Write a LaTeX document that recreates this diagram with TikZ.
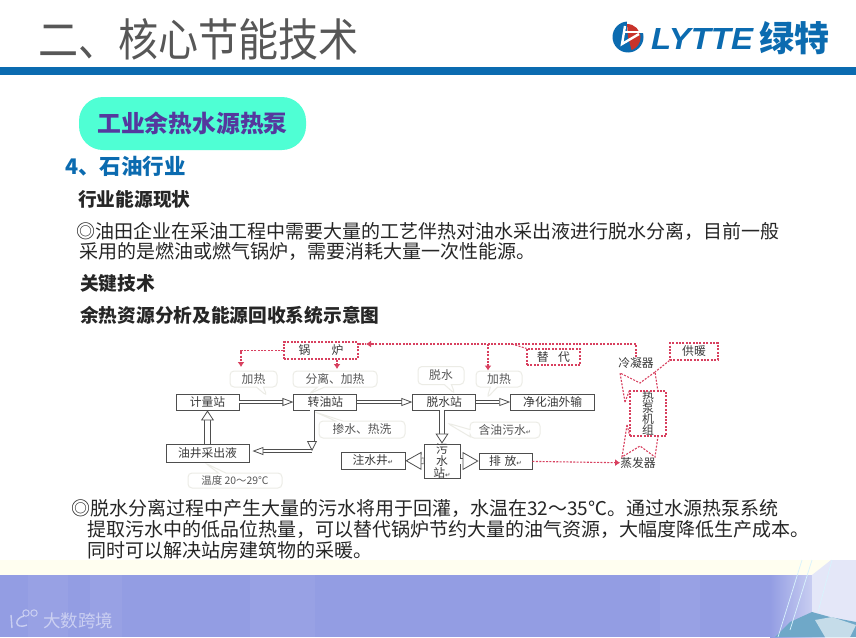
\documentclass[tikz,border=0pt]{standalone}
\usepackage{fontspec}
\setmainfont{Noto Sans CJK SC}
\newfontfamily\latinfont[FakeStretch=1.08]{Liberation Sans}
\newfontfamily\titlefont[FakeStretch=0.89]{Noto Sans CJK SC}
\newfontfamily\markfont{DejaVu Sans}
\newcommand{\retmark}{{\markfont\fontsize{6.5}{8}\selectfont ↵}}
\usepackage{xcolor}
\usetikzlibrary{positioning,arrows.meta,shapes.callouts,calc}
\definecolor{ink}{HTML}{3A3A3A}
\definecolor{barblue}{HTML}{0B6BB0}
\definecolor{pillgreen}{HTML}{4FFFD4}
\definecolor{pillink}{HTML}{55389E}
\definecolor{band}{HTML}{939DE3}
\definecolor{dashred}{HTML}{D8405F}
\definecolor{palegray}{HTML}{ECECE6}
\definecolor{logored}{HTML}{C8332B}
\definecolor{teal}{HTML}{6FA8C8}
\tikzset{
  bodytext/.style={anchor=west, inner sep=0pt, font=\fontsize{19}{19}\selectfont, text=black!85},
  headtext/.style={anchor=west, inner sep=0pt, font=\fontsize{18.7}{18.7}\selectfont\bfseries, text=black!85},
  stationbox/.style={draw=ink!90, line width=0.9pt, fill=white, minimum width=#1, minimum height=16pt, inner sep=0pt, font=\fontsize{11.8}{13}\selectfont, text=ink},
  stationbox/.default=63pt,
  notebox/.style={rectangle callout, rounded corners=4pt, draw=palegray, fill=white, line width=1pt, inner sep=0pt, font=\fontsize{11.8}{13}\selectfont, text=ink!85},
  dashbox/.style={draw=dashred, dash pattern=on 2pt off 1.4pt, line width=1.1pt, fill=white, inner sep=0pt, font=\fontsize{11.8}{13}\selectfont, text=ink},
  dashline/.style={draw=dashred, dash pattern=on 2pt off 1.4pt, line width=1.1pt},
  redtip/.style={-{Latex[length=5pt,width=7pt,sep=0pt]}},
  hollow/.style={draw=ink!90, line width=0.8pt, double=white, double distance=2.4pt, -{Triangle[open,fill=white,length=11pt,width=8pt]}},
  hollowup/.style={hollow, double distance=4.6pt, -{Triangle[open,fill=white,length=10pt,width=13pt]}},
  hollowbig/.style={hollow, double distance=5pt, -{Triangle[open,fill=white,length=16pt,width=18pt]}},
}
\begin{document}
\begin{tikzpicture}[x=1pt,y=-1pt]
  \useasboundingbox (0,0) rectangle (856,637);
  \fill[white] (0,0) rectangle (856,637);
  \fill[barblue] (0,67) rectangle (856,75);
  \fill[yellow!6] (0,560) rectangle (856,575);
  \fill[band] (0,575) rectangle (856,637);
  \foreach \xa/\xb in {28/68,90/122,250/315,660/700} {
    \fill[white,opacity=0.05] (\xa,575) rectangle (\xb,637);
  }
  \shade[left color=band, right color=band!35!white] (770,575) rectangle (825,637);
  \fill[band!25!white] (812,575) -- (831,560) -- (856,560) -- (856,637) -- (812,637) -- cycle;
  \fill[teal] (775,637) -- (790,622) -- (812,612) -- (830,617) -- (856,622) -- (856,637) -- cycle;
  \fill[teal!40!white] (815,620) -- (832,617) -- (856,625) -- (850,637) -- (825,637) -- cycle;
  \draw[white!85!cyan,line width=0.7pt] (802,560) -- (778,637);
  \draw[white!85!cyan,line width=0.7pt] (812,560) -- (790,630);
  \draw[white!85!cyan,line width=0.7pt] (832,560) -- (818,612);

  \node[anchor=west, inner sep=0pt, font=\titlefont\fontsize{45}{45}\selectfont, text=ink!85] (title) at (38,39) {二、核心节能技术};

  \fill[barblue] (628,37) circle (15.5);
  \fill[white] (627,20) rectangle (645,33);
  \fill[logored] (627,24) arc (-90:70:13.5) -- (628,37) -- cycle;
  \draw[white,line width=2.4pt] (625,26) -- (622,44) -- (639,34);
  \draw[white,line width=2.4pt] (625,32) -- (643,32);
  \node[anchor=west, inner sep=0pt, font=\latinfont\fontsize{30.5}{31}\selectfont\bfseries\itshape, text=barblue] (brand) at (651,39) {LYTTE};
  \node[anchor=west, inner sep=0pt, font=\fontsize{35}{35}\selectfont\bfseries, text=barblue] (brandcn) at (759,38) {绿特};

  \node[fill=pillgreen, rounded corners=24pt, minimum width=227pt, minimum height=53pt, inner sep=0pt, font=\fontsize{23.8}{24}\selectfont\bfseries, text=pillink] (pill) at (192.5,123.5) {工业余热水源热泵};
  \node[anchor=west, inner sep=0pt, font=\fontsize{21.5}{22}\selectfont\bfseries, text=barblue] (sector) at (65,166) {4、石油行业};

  \node[headtext] (status) at (78,199) {行业能源现状};
  \node[bodytext] (line1) at (76,231) {◎油田企业在采油工程中需要大量的工艺伴热对油水采出液进行脱水分离，目前一般};
  \node[bodytext] (line2) at (79,251) {采用的是燃油或燃气锅炉，需要消耗大量一次性能源。};
  \node[headtext] (key) at (80,283) {关键技术};
  \node[headtext] (scheme) at (80,315) {余热资源分析及能源回收系统示意图};
  \node[bodytext] (line3) at (71,508) {◎脱水分离过程中产生大量的污水将用于回灌，水温在32～35℃。通过水源热泵系统};
  \node[bodytext] (line4) at (87,529) {提取污水中的低品位热量，可以替代锅炉节约大量的油气资源，大幅度降低生产成本。};
  \node[bodytext] (line5) at (87,550) {同时可以解决站房建筑物的采暖。};

  \node[notebox, minimum width=47pt, minimum height=16pt, callout absolute pointer={(267,396)}] (jiare) at (253.5,379) {加热};
  \node[notebox, minimum width=84pt, minimum height=16pt, callout absolute pointer={(309,394)}] (fenli) at (335,379) {分离、加热};
  \node[notebox, minimum width=46pt, minimum height=18pt, callout absolute pointer={(455,394)}] (tuoshuilabel) at (441,375.5) {脱水};
  \node[notebox, minimum width=46pt, minimum height=16pt, callout absolute pointer={(487,398)}] (jiare2) at (499,379) {加热};
  \node[notebox, minimum width=86pt, minimum height=17pt, callout absolute pointer={(315,412)}] (chanshui) at (362,429.5) {掺水、热洗};
  \node[notebox, minimum width=70pt, minimum height=16pt, callout absolute pointer={(447,423)}] (hanyou) at (505,430) {含油污水\retmark};
  \node[notebox, minimum width=94pt, minimum height=15pt, callout absolute pointer={(205,463)}, font=\fontsize{10.4}{12}\selectfont] (wendu) at (235,480.5) {温度 20～29℃};

  \node[stationbox] (jiliang) at (207.5,402) {计量站};
  \node[stationbox, right=54pt of jiliang] (zhuanyou) {转油站};
  \node[stationbox, right=55pt of zhuanyou] (tuoshui) {脱水站};
  \node[stationbox=84pt, right=34pt of tuoshui] (jinghua) {净化油外输};
  \node[stationbox=83pt, minimum height=18pt] (youjing) at (207.5,453) {油井采出液};
  \node[stationbox=64pt, minimum height=17pt] (zhushui) at (373,460.5) {注水井\retmark};
  \node[stationbox=36pt, minimum height=34pt, align=center, font=\fontsize{11.8}{11.6}\selectfont] (wushui) at (442,461) {污\\水\\站\retmark};
  \node[stationbox=53pt, minimum height=16pt] (paifang) at (505.5,461) {排\hspace{.3em}放\retmark};

  \coordinate (turn) at (312,451);
  \draw[hollow] (jiliang) -- (zhuanyou);
  \draw[hollow] (zhuanyou) -- (tuoshui);
  \draw[hollow] (tuoshui) -- (jinghua);
  \draw[hollow] (turn) -- ($(youjing.east)+(3,-2)$);
  \draw[hollowup, -{Triangle[open,fill=white,length=10pt,width=10pt]}, double distance=3.4pt] (zhuanyou.south -| turn) -- (turn);
  \draw[hollowup] (youjing) -- (youjing.north |- jiliang.south);
  \draw[hollowup] (tuoshui.south -| wushui) -- (wushui);
  \draw[hollowbig] (wushui) -- (zhushui);
  \draw[hollowbig] (wushui) -- (paifang);

  \node[dashbox, minimum width=74pt, minimum height=17pt] (guolu) at (321,350.5) {锅\hspace{1.8em}炉};
  \node[dashbox, minimum width=53pt, minimum height=16pt] (tidai) at (553.5,357) {替\hspace{.8em}代};
  \node[dashbox, minimum width=48pt, minimum height=17pt] (gongnuan) at (694,351.5) {供暖};
  \node[inner sep=0pt, font=\fontsize{11.8}{13}\selectfont, text=ink] (lengning) at (636,363) {冷凝器};
  \node[inner sep=0pt, font=\fontsize{11.8}{13}\selectfont, text=ink] (zhengfa) at (638,463) {蒸发器};

  \coordinate (topright) at (636,344);
  \coordinate (toptip) at (366,344);
  \coordinate (branch) at (488,344);
  \coordinate (jiaretip) at (241,367);
  \coordinate (fenlitip) at (337,369);
  \coordinate (tidaiup) at (512,344);
  \coordinate (a1) at (620,373);
  \coordinate (a2) at (640,383);
  \coordinate (a3) at (655,372);
  \coordinate (a4) at (625,402);
  \coordinate (b1) at (622,457);
  \coordinate (b2) at (640,446);
  \coordinate (b3) at (655,457);
  \coordinate (b4) at (627,425);

  \draw[dashline] (guolu.east |- toptip) -- (toptip);
  \draw[dashline, redtip] (lengning.north -| topright) -- (topright) -- (toptip);
  \draw[dashline, redtip] (branch) -- (branch |- jiare2.north);
  \draw[dashline, redtip] (guolu.west) -| (jiaretip);
  \draw[dashline, redtip] (guolu.south -| fenlitip) -- (fenlitip);
  \draw[dashline] (tidaiup) -- (tidai.north west);
  \draw[dashline] (gongnuan.south west) -- (a3);
  \draw[dashline, redtip] (paifang) -- (zhengfa);
  \draw[dashline] (a4) -- (a1) -- (a2) -- (a3) -- (658,392);
  \draw[dashline] (b4) -- (b1) -- (b2) -- (b3) -- (658,436);
  \node[dashbox, fill=none, minimum width=36pt, minimum height=45pt, align=center, font=\fontsize{11.8}{11}\selectfont] (rebeng) at (648,413.5) {热\\泵\\机\\组};
  \draw[dashline] (a4) -- (rebeng.north west);
  \draw[dashline] (b4) -- ($(rebeng.south west)+(0,-2)$);

  \draw[white,opacity=0.5,line width=1.4pt] (11,615) -- (12,628);
  \draw[white,opacity=0.5,line width=1.4pt] (24,616) .. controls (14,618) and (14,630) .. (27,625);
  \draw[white,opacity=0.5,line width=1pt] (26,613) circle (3.2);
  \draw[white,opacity=0.5,line width=1pt] (34,613) circle (3.2);
  \node[anchor=west, inner sep=0pt, font=\fontsize{17.5}{18}\selectfont, text=white, opacity=0.5] (watermark) at (43,620.5) {大数跨境};
\end{tikzpicture}
\end{document}
